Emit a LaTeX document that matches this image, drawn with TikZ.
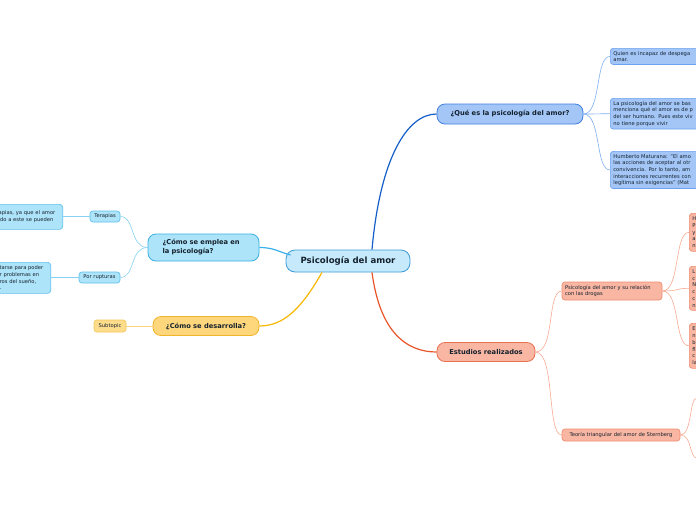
\documentclass[tikz,border=0pt]{standalone}
\usepackage{fontspec}
\setmainfont{DejaVu Sans}
\definecolor{txt}{HTML}{15222E}
\definecolor{cenfill}{HTML}{C6EAFC}
\definecolor{cendraw}{HTML}{3C9BD6}
\definecolor{quefill}{HTML}{A3C6F7}
\definecolor{quedraw}{HTML}{3F80E0}
\definecolor{qchdraw}{HTML}{6CA2F0}
\definecolor{quelink}{HTML}{1560C8}
\definecolor{qchlink}{HTML}{80B0F0}
\definecolor{estfill}{HTML}{F9B6A3}
\definecolor{estdraw}{HTML}{E7704E}
\definecolor{echdraw}{HTML}{F08E72}
\definecolor{estlink}{HTML}{E8552A}
\definecolor{echlink}{HTML}{F8AA92}
\definecolor{empfill}{HTML}{AEE4F9}
\definecolor{empdraw}{HTML}{38B0E4}
\definecolor{mchdraw}{HTML}{60C2EC}
\definecolor{emplink}{HTML}{3AB0E8}
\definecolor{mchlink}{HTML}{86D2F2}
\definecolor{desfill}{HTML}{FED77C}
\definecolor{desdraw}{HTML}{F2B42A}
\definecolor{sbfill}{HTML}{FDDC8C}
\definecolor{sbdraw}{HTML}{F5C85A}
\definecolor{deslink}{HTML}{F6B800}
\definecolor{sblink}{HTML}{F8D478}
\tikzset{
  x=1pt, y=-1pt,
  small/.style={font=\fontsize{5.2}{6.7}\selectfont, text=txt, rounded corners=3pt, line width=0.7pt, inner xsep=3pt, inner ysep=2.7pt, align=left},
  qch/.style={small, fill=quefill, draw=qchdraw},
  ech/.style={small, fill=estfill, draw=echdraw},
  mch/.style={small, fill=empfill, draw=mchdraw},
  sbt/.style={small, fill=sbfill, draw=sbdraw},
  topic/.style={font=\fontsize{6.7}{9}\selectfont\bfseries, text=txt, rounded corners=8pt, line width=0.8pt, align=left},
  thick link/.style={line width=1.2pt},
  thin link/.style={line width=0.6pt},
}
\begin{document}
\begin{tikzpicture}
\useasboundingbox (0,0) rectangle (696,520);
\clip (0,0) rectangle (696,520);
\fill[white] (0,0) rectangle (696,520);

% central
\node[font=\fontsize{8.6}{10}\selectfont\bfseries, text=txt, fill=cenfill, draw=cendraw, line width=0.8pt, rounded corners=9pt, minimum width=124pt, minimum height=22pt] (central) at (348,261) {Psicología del amor};

% main topics
\node[topic, fill=quefill, draw=quedraw, minimum width=146pt, minimum height=20pt, align=center] (que) at (510,114) {¿Qué es la psicología del amor?};
\node[topic, fill=estfill, draw=estdraw, minimum width=98pt, minimum height=19pt, align=center] (est) at (486,352) {Estudios realizados};
\node[topic, fill=empfill, draw=empdraw, minimum width=111pt, minimum height=27pt, text width=82pt] (emp) at (203.5,247.5) {¿Cómo se emplea en\\la psicología?};
\node[topic, fill=desfill, draw=desdraw, minimum width=106pt, minimum height=19pt, align=center] (des) at (206,326) {¿Cómo se desarrolla?};

% Qué children
\node[qch, anchor=north west, text width=110pt] (q1) at (610,48) {Quien es incapaz de despega\\amar.};
\node[qch, anchor=north west, text width=110pt] (q2) at (610,98) {La psicología del amor se bas\\menciona qué el amor es de p\\del ser humano. Pues este viv\\no tiene porque vivir};
\node[qch, anchor=north west, text width=110pt] (q3) at (610,151) {Humberto Maturana: "El amo\\las acciones de aceptar al otr\\convivencia. Por lo tanto, am\\interacciones recurrentes con\\legítima sin exigencias" (Mat};

% Estudios children
\node[ech, minimum width=100pt, minimum height=18pt, text width=94pt] (dro) at (612,291) {Psicología del amor y su relación\\con las drogas};
\node[ech, minimum width=118pt, minimum height=12pt, align=center] (ste) at (621,435) {Teoría triangular del amor de Sternberg};

\node[ech, anchor=north west, text width=40pt, minimum height=38pt] (d1) at (689,213) {H\\P\\y\\a\\n};
\node[ech, anchor=north west, text width=40pt, minimum height=44pt] (d2) at (689,266) {L\\c\\N\\c\\c\\n};
\node[ech, anchor=north west, text width=40pt, minimum height=45pt] (d3) at (689,323) {E\\n\\b\\fl\\c\\la};
\coordinate (s1) at (697,398);
\coordinate (s2) at (697,458);

% emplea children
\node[mch, minimum height=11pt, minimum width=30pt, align=center] (ter) at (105,216.5) {Terapias};
\node[mch, minimum height=11pt, minimum width=41pt, align=center] (rup) at (99.5,277.5) {Por rupturas};
\node[mch, anchor=north east, text width=61pt, minimum height=25pt] (l1) at (63,204) {apias, ya que el amor\\ido a este se pueden};
\node[mch, anchor=north east, text width=48pt, minimum height=31pt] (l2) at (51,262) {tarse para poder\\r problemas en\\ros del sueño,\\.};

% desarrolla child
\node[sbt, minimum height=12pt, minimum width=32pt, align=center] (sub) at (110,326) {Subtopic};

% main links
\draw[thick link, quelink] ([xshift=24pt]central.north) .. controls +(8,-90) and +(-30,0) .. (que.west);
\draw[thick link, estlink] ([xshift=24pt]central.south) .. controls +(8,60) and +(-30,0) .. (est.west);
\draw[thick link, emplink] (emp.east) .. controls +(15,0) and +(-12,-3) .. ([xshift=5pt,yshift=6pt]central.west);
\draw[thick link, deslink] ([xshift=-26pt]central.south) .. controls +(-20,35) and +(25,0) .. (des.east);

% Qué child links
\foreach \t in {q1,q2,q3}
  \draw[thin link, qchlink] (que.east) .. controls +(18,0) and +(-15,0) .. (\t.west);
% Estudios child links
\foreach \t in {dro,ste}
  \draw[thin link, echlink] (est.east) .. controls +(20,0) and +(-15,0) .. (\t.west);
\foreach \t in {d1,d2,d3}
  \draw[thin link, echlink] (dro.east) .. controls +(18,0) and +(-15,0) .. (\t.west);
\foreach \t in {s1,s2}
  \draw[thin link, echlink] (ste.east) .. controls +(12,0) and +(-8,0) .. (\t);
% emplea child links
\foreach \t in {ter,rup}
  \draw[thin link, mchlink] (emp.west) .. controls +(-18,0) and +(15,0) .. (\t.east);
\draw[thin link, mchlink] (ter.west) -- (l1.east |- ter.west);
\draw[thin link, mchlink] (rup.west) -- (l2.east |- rup.west);
% desarrolla child link
\draw[thin link, sblink] (des.west) -- (sub.east);
\end{tikzpicture}
\end{document}
